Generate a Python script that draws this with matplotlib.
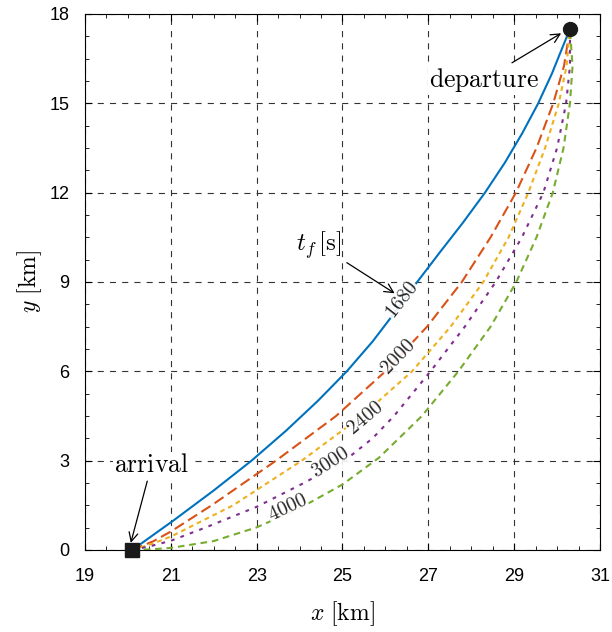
import numpy as np
import matplotlib
matplotlib.use("Agg")
import matplotlib.pyplot as plt
from matplotlib.ticker import MultipleLocator

# trajectories (x [km], y [km])
tf_labels = ["1680", "2000", "2400", "3000", "4000"]

x_1680 = [20.1, 21.07, 22.0, 22.88, 23.68, 24.42, 25.1, 25.7, 26.23, 26.74, 27.27,
          27.81, 28.32, 28.78, 29.19, 29.56, 29.88, 30.16, 30.3]
y_1680 = [0.0, 1.0, 2.0, 3.0, 4.0, 5.0, 6.0, 7.0, 8.0, 9.0, 10.0,
          11.0, 12.0, 13.0, 14.0, 15.0, 16.0, 17.0, 17.5]

x_2000 = [20.1, 20.6, 21.0, 21.95, 23.45, 24.85, 26.0, 26.97, 27.78, 28.45, 29.04, 29.52, 29.91, 30.16, 30.3]
y_2000 = [0.0, 0.3, 0.62, 1.5, 3.0, 4.5, 6.0, 7.5, 9.0, 10.5, 12.0, 13.5, 15.0, 16.25, 17.5]

x_2400 = [20.1, 20.55, 21.0, 22.45, 24.05, 25.45, 26.62, 27.52, 28.28, 28.87, 29.33, 29.72, 30.04, 30.22, 30.3]
y_2400 = [0.0, 0.2, 0.45, 1.5, 3.0, 4.5, 6.0, 7.5, 9.0, 10.5, 12.0, 13.5, 15.0, 16.25, 17.5]

x_3000 = [20.1, 20.5, 21.0, 21.8, 23.0, 24.1, 25.05, 25.7, 26.2, 27.05, 27.85, 28.57, 29.18, 29.68, 30.0, 30.21, 30.3, 30.3]
y_3000 = [0.0, 0.12, 0.31, 0.75, 1.45, 2.25, 3.0, 3.75, 4.5, 6.0, 7.5, 9.0, 10.5, 12.0, 13.5, 15.0, 16.25, 17.5]

x_4000 = [20.1, 20.5, 21.0, 22.0, 23.0, 24.0, 25.0, 25.85, 26.85, 27.7, 28.45, 29.05, 29.52, 29.9, 30.15, 30.3, 30.36, 30.3]
y_4000 = [0.0, 0.02, 0.07, 0.3, 0.76, 1.4, 2.2, 3.1, 4.5, 6.0, 7.5, 9.0, 10.5, 12.0, 13.5, 15.0, 16.25, 17.5]

# where the t_f labels sit on each curve
label_x = [26.39, 26.29, 25.52, 24.71, 23.71]
label_y = [8.39, 6.48, 4.43, 2.95, 1.44]
label_rot = [52, 46, 40, 33, 25]

departure = (30.3, 17.5)
arrival = (20.1, 0.0)

plt.rcParams["mathtext.fontset"] = "cm"
plt.rcParams["font.family"] = ["Liberation Sans", "DejaVu Sans"]

colors = ["#0072BD", "#D95319", "#EDB120", "#7E2F8E", "#77AC30"]
dashes = [(None, None), (5.2, 2.4), (2.3, 1.9), (1.8, 3.0), (3.2, 2.3)]

fig = plt.figure(figsize=(6.12, 6.32), dpi=100)
ax = fig.add_axes([85 / 612, 82 / 632, 515 / 612, 536 / 632])

curves = [(x_1680, y_1680), (x_2000, y_2000), (x_2400, y_2400),
          (x_3000, y_3000), (x_4000, y_4000)]
for (xs, ys), c, d in zip(curves, colors, dashes):
    line, = ax.plot(xs, ys, color=c, lw=1.5)
    if d[0] is not None:
        line.set_dashes(d)

for lab, lx, ly, rot in zip(tf_labels, label_x, label_y, label_rot):
    ax.text(lx, ly, "$" + lab + "$", rotation=rot, ha="center", va="center",
            fontsize=14.5, color="#262626", zorder=5,
            bbox=dict(fc="white", ec="none", pad=0.3, alpha=0.9))

ax.plot(*departure, "o", color="#1a1a1a", ms=10, zorder=6)
ax.plot(*arrival, "s", color="#1a1a1a", ms=10, zorder=6, clip_on=False)

arrow = dict(arrowstyle="->", color="black", lw=0.9, mutation_scale=16)
ax.annotate(r"$\mathrm{departure}$", xy=(30.15, 17.4), xytext=(28.3, 15.8),
            fontsize=18.5, ha="center", va="center", arrowprops=arrow,
            bbox=dict(fc="white", ec="none", pad=1))
ax.annotate(r"$\mathrm{arrival}$", xy=(20.05, 0.15), xytext=(20.55, 2.85),
            fontsize=18.5, ha="center", va="center", arrowprops=arrow,
            bbox=dict(fc="white", ec="none", pad=1))
ax.annotate(r"$t_f\,[\mathrm{s}]$", xy=(26.27, 8.57), xytext=(24.45, 10.25),
            fontsize=18, ha="center", va="center", arrowprops=arrow)

ax.set_xlim(19, 31)
ax.set_ylim(0, 18)
ax.set_xticks(np.arange(19, 32, 2))
ax.xaxis.set_minor_locator(MultipleLocator(0.5))
ax.yaxis.set_major_locator(MultipleLocator(3))
ax.yaxis.set_minor_locator(MultipleLocator(0.75))
ax.tick_params(which="both", direction="in", top=True, right=True, labelsize=13)
ax.tick_params(which="major", length=5)
ax.tick_params(which="minor", length=3)
ax.tick_params(axis="x", which="major", pad=13)
ax.tick_params(axis="y", which="major", pad=11)
ax.grid(True, which="major", color="#333333", ls=(0, (5.5, 5.5)), lw=0.8)

ax.set_xlabel(r"$x\ [\mathrm{km}]$", fontsize=17, labelpad=10)
ax.set_ylabel(r"$y\ [\mathrm{km}]$", fontsize=17, labelpad=4)
for s in ax.spines.values():
    s.set_linewidth(0.8)

fig.savefig("out.png", dpi=100)
